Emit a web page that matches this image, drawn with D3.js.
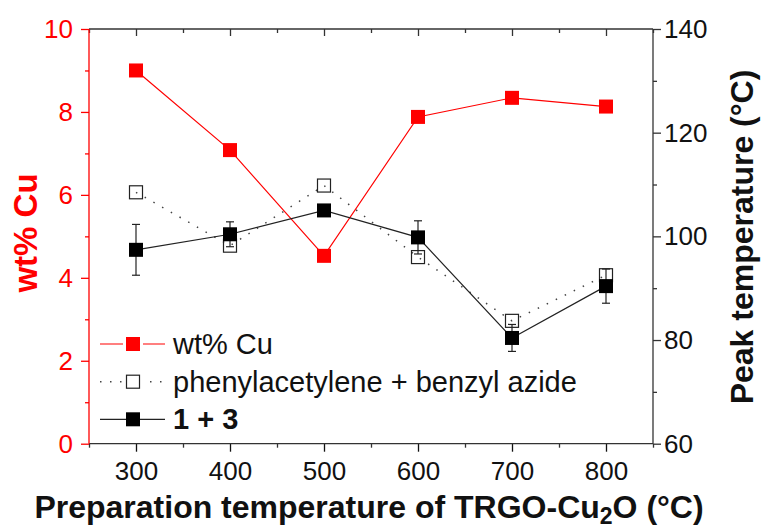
<!DOCTYPE html>
<html>
<head>
<meta charset="utf-8">
<script src="https://d3js.org/d3.v7.min.js"></script>
<style>
  body { margin: 0; background: #fff; }
  svg { font-family: "Liberation Sans", Arial, sans-serif; }
</style>
</head>
<body>
<svg id="chart"></svg>
<script>
var width = 761;
var height = 528;

// data
var temps = [300, 400, 500, 600, 700, 800];
var wtCu = [9.0, 7.08, 4.53, 7.88, 8.34, 8.13];
var peakPhenyl = [108.5, 98.2, 109.8, 96.0, 83.7, 92.5];
var peak13 = [97.4, 100.4, 105.0, 99.8, 80.4, 90.4];
var err13 = [4.9, 2.4, 1.0, 3.2, 2.6, 3.3];

var xTicks = [300, 400, 500, 600, 700, 800];
var xMinor = [250, 350, 450, 550, 650, 750, 850];
var leftTicks = [0, 2, 4, 6, 8, 10];
var leftMinor = [1, 3, 5, 7, 9];
var rightTicks = [60, 80, 100, 120, 140];
var rightMinor = [70, 90, 110, 130];

var legendLabels = ["wt% Cu", "phenylacetylene + benzyl azide", "1 + 3"];

var pLeft = 89, pRight = 653, pTop = 29, pBottom = 443.7;
var red = "#ff0000", axisCol = "#333333";

var svg = d3.select("#chart")
    .attr("width", width)
    .attr("height", height)
    .attr("viewBox", "0 0 " + width + " " + height);

var x = d3.scaleLinear().domain([250, 850]).range([pLeft, pRight]);
var yL = d3.scaleLinear().domain([0, 10]).range([pBottom, pTop]);
var yR = d3.scaleLinear().domain([60, 140]).range([pBottom, pTop]);

// Axes

function styleAxis(g, col, fontSize) {
  g.select(".domain").remove();
  g.selectAll("line").attr("stroke", col).attr("stroke-width", 1.3);
  g.selectAll("text").attr("fill", col).style("font-size", fontSize + "px");
}

// bottom
svg.append("g").attr("transform", "translate(0," + pBottom + ")")
  .call(d3.axisBottom(x).tickValues(xTicks).tickSize(8).tickPadding(10).tickFormat(d3.format("d")))
  .call(function(g) { styleAxis(g, "#111", 26); });
svg.append("g").attr("transform", "translate(0," + pBottom + ")")
  .call(d3.axisBottom(x).tickValues(xMinor).tickSize(4).tickFormat(""))
  .call(function(g) { styleAxis(g, axisCol, 26); });

// top (inward ticks)
svg.append("g").attr("transform", "translate(0," + pTop + ")")
  .call(d3.axisBottom(x).tickValues(xTicks).tickSize(7).tickFormat(""))
  .call(function(g) { styleAxis(g, axisCol, 26); });
svg.append("g").attr("transform", "translate(0," + pTop + ")")
  .call(d3.axisBottom(x).tickValues(xMinor).tickSize(4).tickFormat(""))
  .call(function(g) { styleAxis(g, axisCol, 26); });

// left (red)
svg.append("g").attr("transform", "translate(" + pLeft + ",0)")
  .call(d3.axisLeft(yL).tickValues(leftTicks).tickSize(8).tickPadding(8).tickFormat(d3.format("d")))
  .call(function(g) { styleAxis(g, red, 26); });
svg.append("g").attr("transform", "translate(" + pLeft + ",0)")
  .call(d3.axisLeft(yL).tickValues(leftMinor).tickSize(4).tickFormat(""))
  .call(function(g) { styleAxis(g, red, 26); });

// right
svg.append("g").attr("transform", "translate(" + pRight + ",0)")
  .call(d3.axisRight(yR).tickValues(rightTicks).tickSize(8).tickPadding(3).tickFormat(d3.format("d")))
  .call(function(g) { styleAxis(g, "#111", 26); g.selectAll("line").attr("stroke", axisCol); });
svg.append("g").attr("transform", "translate(" + pRight + ",0)")
  .call(d3.axisRight(yR).tickValues(rightMinor).tickSize(4).tickFormat(""))
  .call(function(g) { styleAxis(g, axisCol, 26); });

// frame lines
svg.append("line").attr("x1", pLeft).attr("x2", pRight).attr("y1", pTop).attr("y2", pTop)
  .attr("stroke", axisCol).attr("stroke-width", 1.3);
svg.append("line").attr("x1", pLeft).attr("x2", pRight).attr("y1", pBottom).attr("y2", pBottom)
  .attr("stroke", axisCol).attr("stroke-width", 1.3);
svg.append("line").attr("x1", pRight).attr("x2", pRight).attr("y1", pTop).attr("y2", pBottom)
  .attr("stroke", axisCol).attr("stroke-width", 1.3);
svg.append("line").attr("x1", pLeft).attr("x2", pLeft).attr("y1", pTop).attr("y2", pBottom)
  .attr("stroke", red).attr("stroke-width", 1.3);

// Series

var sq = 14;

// wt% Cu
var lineL = d3.line().x(function(d, i) { return x(temps[i]); }).y(function(d) { return yL(d); });
svg.append("path").datum(wtCu).attr("d", lineL)
  .attr("fill", "none").attr("stroke", red).attr("stroke-width", 1.2);
svg.append("g").selectAll("rect").data(wtCu).enter().append("rect")
  .attr("x", function(d, i) { return x(temps[i]) - sq / 2; })
  .attr("y", function(d) { return yL(d) - sq / 2; })
  .attr("width", sq).attr("height", sq)
  .attr("fill", red);

// phenylacetylene + benzyl azide
var lineR = d3.line().x(function(d, i) { return x(temps[i]); }).y(function(d) { return yR(d); });
svg.append("path").datum(peakPhenyl).attr("d", lineR)
  .attr("fill", "none").attr("stroke", "#444").attr("stroke-width", 1.5)
  .attr("stroke-dasharray", "1.5,8.5");
svg.append("g").selectAll("rect").data(peakPhenyl).enter().append("rect")
  .attr("x", function(d, i) { return x(temps[i]) - 6.5; })
  .attr("y", function(d) { return yR(d) - 6.5; })
  .attr("width", 13).attr("height", 13)
  .attr("fill", "none").attr("stroke", "#222").attr("stroke-width", 1.2);

// 1 + 3
svg.append("path").datum(peak13).attr("d", lineR)
  .attr("fill", "none").attr("stroke", "#222").attr("stroke-width", 1.2);
var eb = svg.append("g").attr("stroke", "#222").attr("stroke-width", 1.2);
peak13.forEach(function(d, i) {
  var cx = x(temps[i]);
  eb.append("line").attr("x1", cx).attr("x2", cx).attr("y1", yR(d - err13[i])).attr("y2", yR(d + err13[i]));
  eb.append("line").attr("x1", cx - 4).attr("x2", cx + 4).attr("y1", yR(d - err13[i])).attr("y2", yR(d - err13[i]));
  eb.append("line").attr("x1", cx - 4).attr("x2", cx + 4).attr("y1", yR(d + err13[i])).attr("y2", yR(d + err13[i]));
});
svg.append("g").selectAll("rect").data(peak13).enter().append("rect")
  .attr("x", function(d, i) { return x(temps[i]) - sq / 2; })
  .attr("y", function(d) { return yR(d) - sq / 2; })
  .attr("width", sq).attr("height", sq)
  .attr("fill", "#000");

// Legend

var legY = [344, 381.7, 419.3];
var legend = svg.append("g");

legend.append("line").attr("x1", 100).attr("x2", 165).attr("y1", legY[0]).attr("y2", legY[0])
  .attr("stroke", red).attr("stroke-width", 1.2);
legend.append("rect").attr("x", 133 - 10).attr("y", legY[0] - 8).attr("width", 20).attr("height", 16)
  .attr("fill", "#fff");
legend.append("rect").attr("x", 133 - 7).attr("y", legY[0] - 7).attr("width", 14).attr("height", 14)
  .attr("fill", red);

legend.append("line").attr("x1", 100).attr("x2", 165).attr("y1", legY[1]).attr("y2", legY[1])
  .attr("stroke", "#444").attr("stroke-width", 1.5).attr("stroke-dasharray", "1.5,8.5");
legend.append("rect").attr("x", 133 - 11).attr("y", legY[1] - 11).attr("width", 22).attr("height", 22)
  .attr("fill", "#fff");
legend.append("rect").attr("x", 133 - 6.5).attr("y", legY[1] - 6.5).attr("width", 13).attr("height", 13)
  .attr("fill", "#fff").attr("stroke", "#222").attr("stroke-width", 1.2);

legend.append("line").attr("x1", 100).attr("x2", 165).attr("y1", legY[2]).attr("y2", legY[2])
  .attr("stroke", "#222").attr("stroke-width", 1.2);
legend.append("rect").attr("x", 133 - 7).attr("y", legY[2] - 7).attr("width", 14).attr("height", 14)
  .attr("fill", "#000");

legend.selectAll("text").data(legendLabels).enter().append("text")
  .attr("x", 173)
  .attr("y", function(d, i) { return legY[i] + 10; })
  .style("font-size", "29px")
  .style("font-weight", function(d, i) { return i === 2 ? "bold" : "normal"; })
  .attr("fill", "#111")
  .text(function(d) { return d; });

// Titles

var xt = svg.append("text")
  .attr("x", 369).attr("y", 518)
  .attr("text-anchor", "middle")
  .style("font-size", "32px").style("font-weight", "bold")
  .attr("fill", "#111");
xt.append("tspan").text("Preparation temperature of TRGO-Cu");
xt.append("tspan").text("2").attr("dy", 6).style("font-size", "23px");
xt.append("tspan").text("O (°C)").attr("dy", -6);

svg.append("text")
  .attr("transform", "translate(37,233) rotate(-90)")
  .attr("text-anchor", "middle")
  .style("font-size", "33px").style("font-weight", "bold")
  .attr("fill", red)
  .text("wt% Cu");

svg.append("text")
  .attr("transform", "translate(753,237) rotate(-90)")
  .attr("text-anchor", "middle")
  .style("font-size", "32px").style("font-weight", "bold")
  .attr("fill", "#111")
  .text("Peak temperature (°C)");
</script>
</body>
</html>
